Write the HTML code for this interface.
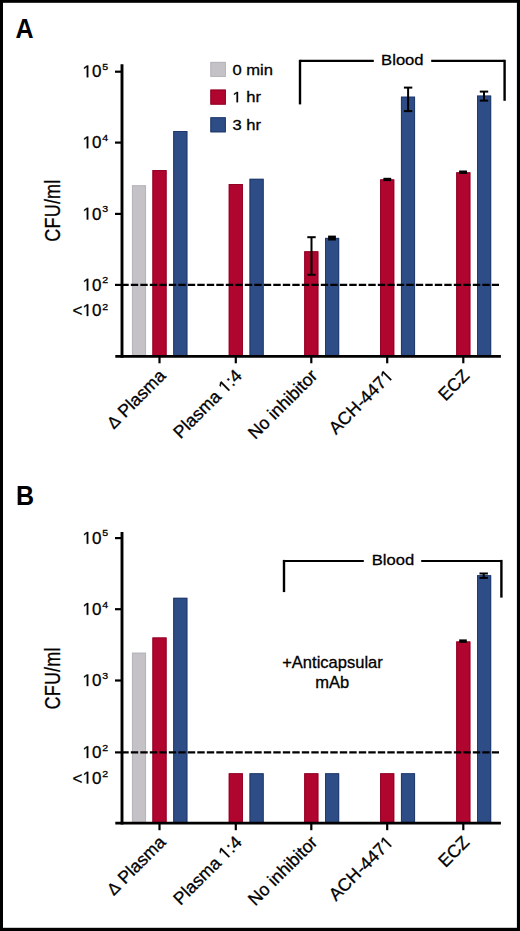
<!DOCTYPE html>
<html><head><meta charset="utf-8"><style>
html,body{margin:0;padding:0;background:#fff;}
body{width:520px;height:931px;overflow:hidden;}
svg{display:block;}
text{font-family:"Liberation Sans",sans-serif;fill:#000;stroke:#000;stroke-width:0.3px;}
text[font-weight="bold"]{stroke-width:0;}
</style></head><body>
<svg width="520" height="931" viewBox="0 0 520 931">
<rect x="0" y="0" width="520" height="931" fill="#fff"/>
<text transform="translate(15.60 37.60) scale(0.9 1)" font-size="27.8" text-anchor="start" font-weight="bold">A</text>
<rect x="131.95" y="185.30" width="14.10" height="171.00" fill="#c4c2c7"/>
<rect x="132.40" y="185.75" width="13.20" height="170.55" fill="none" stroke="#b5b3b9" stroke-width="0.9"/>
<rect x="152.45" y="170.10" width="14.10" height="186.20" fill="#b0052f"/>
<rect x="152.90" y="170.55" width="13.20" height="185.75" fill="none" stroke="#8e0024" stroke-width="0.9"/>
<rect x="173.25" y="131.00" width="14.10" height="225.30" fill="#2e4c86"/>
<rect x="173.70" y="131.45" width="13.20" height="224.85" fill="none" stroke="#1f3868" stroke-width="0.9"/>
<rect x="228.75" y="184.10" width="14.10" height="172.20" fill="#b0052f"/>
<rect x="229.20" y="184.55" width="13.20" height="171.75" fill="none" stroke="#8e0024" stroke-width="0.9"/>
<rect x="249.55" y="178.80" width="14.10" height="177.50" fill="#2e4c86"/>
<rect x="250.00" y="179.25" width="13.20" height="177.05" fill="none" stroke="#1f3868" stroke-width="0.9"/>
<rect x="304.25" y="251.30" width="14.10" height="105.00" fill="#b0052f"/>
<rect x="304.70" y="251.75" width="13.20" height="104.55" fill="none" stroke="#8e0024" stroke-width="0.9"/>
<rect x="325.05" y="237.90" width="14.10" height="118.40" fill="#2e4c86"/>
<rect x="325.50" y="238.35" width="13.20" height="117.95" fill="none" stroke="#1f3868" stroke-width="0.9"/>
<rect x="380.15" y="179.40" width="14.10" height="176.90" fill="#b0052f"/>
<rect x="380.60" y="179.85" width="13.20" height="176.45" fill="none" stroke="#8e0024" stroke-width="0.9"/>
<rect x="400.95" y="96.70" width="14.10" height="259.60" fill="#2e4c86"/>
<rect x="401.40" y="97.15" width="13.20" height="259.15" fill="none" stroke="#1f3868" stroke-width="0.9"/>
<rect x="456.25" y="172.30" width="14.10" height="184.00" fill="#b0052f"/>
<rect x="456.70" y="172.75" width="13.20" height="183.55" fill="none" stroke="#8e0024" stroke-width="0.9"/>
<rect x="477.05" y="95.60" width="14.10" height="260.70" fill="#2e4c86"/>
<rect x="477.50" y="96.05" width="13.20" height="260.25" fill="none" stroke="#1f3868" stroke-width="0.9"/>
<line x1="311.50" y1="237.20" x2="311.50" y2="274.80" stroke="#000" stroke-width="2.0" stroke-linecap="butt"/>
<line x1="307.30" y1="237.20" x2="315.70" y2="237.20" stroke="#000" stroke-width="2.0" stroke-linecap="butt"/>
<line x1="307.30" y1="274.80" x2="315.70" y2="274.80" stroke="#000" stroke-width="2.0" stroke-linecap="butt"/>
<rect x="328.10" y="235.60" width="7.80" height="4.90" fill="#000"/>
<rect x="383.40" y="177.80" width="7.80" height="3.30" fill="#000"/>
<line x1="408.10" y1="87.60" x2="408.10" y2="111.10" stroke="#000" stroke-width="2.0" stroke-linecap="butt"/>
<line x1="403.90" y1="87.60" x2="412.30" y2="87.60" stroke="#000" stroke-width="2.0" stroke-linecap="butt"/>
<line x1="403.90" y1="111.10" x2="412.30" y2="111.10" stroke="#000" stroke-width="2.0" stroke-linecap="butt"/>
<rect x="459.10" y="170.50" width="7.90" height="3.40" fill="#000"/>
<line x1="484.00" y1="91.60" x2="484.00" y2="100.60" stroke="#000" stroke-width="2.0" stroke-linecap="butt"/>
<line x1="479.80" y1="91.60" x2="488.20" y2="91.60" stroke="#000" stroke-width="2.0" stroke-linecap="butt"/>
<line x1="479.80" y1="100.60" x2="488.20" y2="100.60" stroke="#000" stroke-width="2.0" stroke-linecap="butt"/>
<line x1="121.30" y1="284.90" x2="499.00" y2="284.90" stroke="#000" stroke-width="2.2" stroke-linecap="butt" stroke-dasharray="7.4 2.1"/>
<line x1="122.00" y1="64.20" x2="122.00" y2="357.70" stroke="#000" stroke-width="2.9" stroke-linecap="butt"/>
<line x1="115.00" y1="71.70" x2="122.00" y2="71.70" stroke="#000" stroke-width="2.2" stroke-linecap="butt"/>
<line x1="115.00" y1="142.60" x2="122.00" y2="142.60" stroke="#000" stroke-width="2.2" stroke-linecap="butt"/>
<line x1="115.00" y1="213.90" x2="122.00" y2="213.90" stroke="#000" stroke-width="2.2" stroke-linecap="butt"/>
<line x1="115.00" y1="284.90" x2="122.00" y2="284.90" stroke="#000" stroke-width="2.2" stroke-linecap="butt"/>
<line x1="115.30" y1="356.30" x2="500.90" y2="356.30" stroke="#000" stroke-width="2.8" stroke-linecap="butt"/>
<line x1="159.50" y1="356.30" x2="159.50" y2="363.30" stroke="#000" stroke-width="2.2" stroke-linecap="butt"/>
<line x1="235.80" y1="356.30" x2="235.80" y2="363.30" stroke="#000" stroke-width="2.2" stroke-linecap="butt"/>
<line x1="311.30" y1="356.30" x2="311.30" y2="363.30" stroke="#000" stroke-width="2.2" stroke-linecap="butt"/>
<line x1="387.20" y1="356.30" x2="387.20" y2="363.30" stroke="#000" stroke-width="2.2" stroke-linecap="butt"/>
<line x1="463.30" y1="356.30" x2="463.30" y2="363.30" stroke="#000" stroke-width="2.2" stroke-linecap="butt"/>
<text x="101.40" y="77.30" font-size="17" text-anchor="end" font-weight="normal">0</text>
<path transform="translate(82.49 77.30) scale(0.00830 -0.00830)" d="M515 0V1237L197 1010V1180L530 1409H696V0Z" fill="#000" stroke="#000" stroke-width="36.1"/>
<text transform="translate(102.20 70.00) scale(1.1 1)" font-size="9.6" text-anchor="start" font-weight="normal">5</text>
<text x="101.40" y="148.20" font-size="17" text-anchor="end" font-weight="normal">0</text>
<path transform="translate(82.49 148.20) scale(0.00830 -0.00830)" d="M515 0V1237L197 1010V1180L530 1409H696V0Z" fill="#000" stroke="#000" stroke-width="36.1"/>
<text transform="translate(102.20 140.90) scale(1.1 1)" font-size="9.6" text-anchor="start" font-weight="normal">4</text>
<text x="101.40" y="219.50" font-size="17" text-anchor="end" font-weight="normal">0</text>
<path transform="translate(82.49 219.50) scale(0.00830 -0.00830)" d="M515 0V1237L197 1010V1180L530 1409H696V0Z" fill="#000" stroke="#000" stroke-width="36.1"/>
<text transform="translate(102.20 212.20) scale(1.1 1)" font-size="9.6" text-anchor="start" font-weight="normal">3</text>
<text x="101.40" y="290.50" font-size="17" text-anchor="end" font-weight="normal">0</text>
<path transform="translate(82.49 290.50) scale(0.00830 -0.00830)" d="M515 0V1237L197 1010V1180L530 1409H696V0Z" fill="#000" stroke="#000" stroke-width="36.1"/>
<text transform="translate(102.20 283.20) scale(1.1 1)" font-size="9.6" text-anchor="start" font-weight="normal">2</text>
<text x="101.40" y="316.00" font-size="17" text-anchor="end" font-weight="normal">0</text>
<path transform="translate(82.49 316.00) scale(0.00830 -0.00830)" d="M515 0V1237L197 1010V1180L530 1409H696V0Z" fill="#000" stroke="#000" stroke-width="36.1"/>
<text x="82.49" y="316.00" font-size="17" text-anchor="end" font-weight="normal">&lt;</text>
<text transform="translate(102.20 309.60) scale(1.1 1)" font-size="9.6" text-anchor="start" font-weight="normal">2</text>
<text transform="translate(59.6 210.6) rotate(-90) scale(0.835 1)" font-size="21.6" letter-spacing="0.25" text-anchor="middle">CFU/ml</text>
<text transform="translate(166.70 376.80) rotate(-45)" font-size="17.7" text-anchor="end"><tspan font-size="16.6">&#916;</tspan> Plasma</text>
<g transform="translate(243.00 376.80) rotate(-45)">
<text x="-88.54" y="0" font-size="17.7">Plasma&#160;</text>
<path transform="translate(-24.61 0) scale(0.00864 -0.00864)" d="M515 0V1237L197 1010V1180L530 1409H696V0Z" fill="#000" stroke="#000" stroke-width="34.7"/>
<text x="-14.76" y="0" font-size="17.7">:4</text>
</g>
<text transform="translate(318.50 376.80) rotate(-45)" font-size="17.7" text-anchor="end">No inhibitor</text>
<g transform="translate(394.40 376.80) rotate(-45)">
<text x="-82.64" y="0" font-size="17.7">ACH-447</text>
<path transform="translate(-9.84 0) scale(0.00864 -0.00864)" d="M515 0V1237L197 1010V1180L530 1409H696V0Z" fill="#000" stroke="#000" stroke-width="34.7"/>
</g>
<text transform="translate(470.50 376.80) rotate(-45)" font-size="17.7" text-anchor="end">ECZ</text>
<line x1="300.00" y1="60.90" x2="373.80" y2="60.90" stroke="#000" stroke-width="2.2" stroke-linecap="butt"/>
<line x1="431.20" y1="60.90" x2="504.60" y2="60.90" stroke="#000" stroke-width="2.2" stroke-linecap="butt"/>
<line x1="300.00" y1="59.80" x2="300.00" y2="104.40" stroke="#000" stroke-width="2.4" stroke-linecap="butt"/>
<line x1="504.60" y1="59.80" x2="504.60" y2="100.80" stroke="#000" stroke-width="2.4" stroke-linecap="butt"/>
<text transform="translate(381.10 64.60) scale(1.08 1)" font-size="15.4" text-anchor="start" font-weight="normal">Blood</text>
<rect x="210.40" y="61.90" width="15.40" height="15.00" fill="#c4c2c7"/>
<rect x="210.85" y="62.35" width="14.5" height="14.1" fill="none" stroke="#b5b3b9" stroke-width="0.9"/>
<text transform="translate(232.40 74.50) scale(1.12 1)" font-size="14.8" text-anchor="start" font-weight="normal">0 min</text>
<rect x="210.40" y="89.60" width="15.40" height="15.00" fill="#b0052f"/>
<rect x="210.85" y="90.05" width="14.5" height="14.1" fill="none" stroke="#8e0024" stroke-width="0.9"/>
<path transform="translate(232.40 102.20) scale(0.00809 -0.00723)" d="M515 0V1237L197 1010V1180L530 1409H696V0Z" fill="#000" stroke="#000" stroke-width="41.5"/>
<text transform="translate(241.62 102.20) scale(1.12 1)" font-size="14.8" text-anchor="start" font-weight="normal">&#160;hr</text>
<rect x="210.40" y="117.30" width="15.40" height="15.00" fill="#2e4c86"/>
<rect x="210.85" y="117.75" width="14.5" height="14.1" fill="none" stroke="#1f3868" stroke-width="0.9"/>
<text transform="translate(232.40 129.90) scale(1.12 1)" font-size="14.8" text-anchor="start" font-weight="normal">3 hr</text>
<text transform="translate(16.00 505.00) scale(0.9 1)" font-size="27.8" text-anchor="start" font-weight="bold">B</text>
<rect x="131.95" y="652.70" width="14.10" height="170.50" fill="#c4c2c7"/>
<rect x="132.40" y="653.15" width="13.20" height="170.05" fill="none" stroke="#b5b3b9" stroke-width="0.9"/>
<rect x="152.45" y="637.50" width="14.10" height="185.70" fill="#b0052f"/>
<rect x="152.90" y="637.95" width="13.20" height="185.25" fill="none" stroke="#8e0024" stroke-width="0.9"/>
<rect x="173.25" y="597.80" width="14.10" height="225.40" fill="#2e4c86"/>
<rect x="173.70" y="598.25" width="13.20" height="224.95" fill="none" stroke="#1f3868" stroke-width="0.9"/>
<rect x="228.75" y="773.30" width="14.10" height="49.90" fill="#b0052f"/>
<rect x="229.20" y="773.75" width="13.20" height="49.45" fill="none" stroke="#8e0024" stroke-width="0.9"/>
<rect x="249.55" y="773.30" width="14.10" height="49.90" fill="#2e4c86"/>
<rect x="250.00" y="773.75" width="13.20" height="49.45" fill="none" stroke="#1f3868" stroke-width="0.9"/>
<rect x="304.25" y="773.30" width="14.10" height="49.90" fill="#b0052f"/>
<rect x="304.70" y="773.75" width="13.20" height="49.45" fill="none" stroke="#8e0024" stroke-width="0.9"/>
<rect x="325.05" y="773.30" width="14.10" height="49.90" fill="#2e4c86"/>
<rect x="325.50" y="773.75" width="13.20" height="49.45" fill="none" stroke="#1f3868" stroke-width="0.9"/>
<rect x="380.15" y="773.30" width="14.10" height="49.90" fill="#b0052f"/>
<rect x="380.60" y="773.75" width="13.20" height="49.45" fill="none" stroke="#8e0024" stroke-width="0.9"/>
<rect x="400.95" y="773.30" width="14.10" height="49.90" fill="#2e4c86"/>
<rect x="401.40" y="773.75" width="13.20" height="49.45" fill="none" stroke="#1f3868" stroke-width="0.9"/>
<rect x="456.25" y="641.50" width="14.10" height="181.70" fill="#b0052f"/>
<rect x="456.70" y="641.95" width="13.20" height="181.25" fill="none" stroke="#8e0024" stroke-width="0.9"/>
<rect x="477.05" y="575.20" width="14.10" height="248.00" fill="#2e4c86"/>
<rect x="477.50" y="575.65" width="13.20" height="247.55" fill="none" stroke="#1f3868" stroke-width="0.9"/>
<rect x="459.20" y="639.40" width="7.60" height="3.40" fill="#000"/>
<line x1="483.70" y1="573.50" x2="483.70" y2="577.90" stroke="#000" stroke-width="2.0" stroke-linecap="butt"/>
<line x1="479.50" y1="573.50" x2="487.90" y2="573.50" stroke="#000" stroke-width="2.0" stroke-linecap="butt"/>
<line x1="479.50" y1="577.90" x2="487.90" y2="577.90" stroke="#000" stroke-width="2.0" stroke-linecap="butt"/>
<line x1="121.30" y1="752.40" x2="499.00" y2="752.40" stroke="#000" stroke-width="2.2" stroke-linecap="butt" stroke-dasharray="7.4 2.1"/>
<line x1="122.00" y1="531.90" x2="122.00" y2="824.60" stroke="#000" stroke-width="2.9" stroke-linecap="butt"/>
<line x1="115.00" y1="538.10" x2="122.00" y2="538.10" stroke="#000" stroke-width="2.2" stroke-linecap="butt"/>
<line x1="115.00" y1="609.20" x2="122.00" y2="609.20" stroke="#000" stroke-width="2.2" stroke-linecap="butt"/>
<line x1="115.00" y1="680.50" x2="122.00" y2="680.50" stroke="#000" stroke-width="2.2" stroke-linecap="butt"/>
<line x1="115.00" y1="752.40" x2="122.00" y2="752.40" stroke="#000" stroke-width="2.2" stroke-linecap="butt"/>
<line x1="115.30" y1="823.20" x2="500.90" y2="823.20" stroke="#000" stroke-width="2.8" stroke-linecap="butt"/>
<line x1="159.50" y1="823.20" x2="159.50" y2="830.20" stroke="#000" stroke-width="2.2" stroke-linecap="butt"/>
<line x1="235.80" y1="823.20" x2="235.80" y2="830.20" stroke="#000" stroke-width="2.2" stroke-linecap="butt"/>
<line x1="311.30" y1="823.20" x2="311.30" y2="830.20" stroke="#000" stroke-width="2.2" stroke-linecap="butt"/>
<line x1="387.20" y1="823.20" x2="387.20" y2="830.20" stroke="#000" stroke-width="2.2" stroke-linecap="butt"/>
<line x1="463.30" y1="823.20" x2="463.30" y2="830.20" stroke="#000" stroke-width="2.2" stroke-linecap="butt"/>
<text x="101.40" y="543.70" font-size="17" text-anchor="end" font-weight="normal">0</text>
<path transform="translate(82.49 543.70) scale(0.00830 -0.00830)" d="M515 0V1237L197 1010V1180L530 1409H696V0Z" fill="#000" stroke="#000" stroke-width="36.1"/>
<text transform="translate(102.20 536.40) scale(1.1 1)" font-size="9.6" text-anchor="start" font-weight="normal">5</text>
<text x="101.40" y="614.80" font-size="17" text-anchor="end" font-weight="normal">0</text>
<path transform="translate(82.49 614.80) scale(0.00830 -0.00830)" d="M515 0V1237L197 1010V1180L530 1409H696V0Z" fill="#000" stroke="#000" stroke-width="36.1"/>
<text transform="translate(102.20 607.50) scale(1.1 1)" font-size="9.6" text-anchor="start" font-weight="normal">4</text>
<text x="101.40" y="686.10" font-size="17" text-anchor="end" font-weight="normal">0</text>
<path transform="translate(82.49 686.10) scale(0.00830 -0.00830)" d="M515 0V1237L197 1010V1180L530 1409H696V0Z" fill="#000" stroke="#000" stroke-width="36.1"/>
<text transform="translate(102.20 678.80) scale(1.1 1)" font-size="9.6" text-anchor="start" font-weight="normal">3</text>
<text x="101.40" y="758.00" font-size="17" text-anchor="end" font-weight="normal">0</text>
<path transform="translate(82.49 758.00) scale(0.00830 -0.00830)" d="M515 0V1237L197 1010V1180L530 1409H696V0Z" fill="#000" stroke="#000" stroke-width="36.1"/>
<text transform="translate(102.20 750.70) scale(1.1 1)" font-size="9.6" text-anchor="start" font-weight="normal">2</text>
<text x="101.40" y="783.50" font-size="17" text-anchor="end" font-weight="normal">0</text>
<path transform="translate(82.49 783.50) scale(0.00830 -0.00830)" d="M515 0V1237L197 1010V1180L530 1409H696V0Z" fill="#000" stroke="#000" stroke-width="36.1"/>
<text x="82.49" y="783.50" font-size="17" text-anchor="end" font-weight="normal">&lt;</text>
<text transform="translate(102.20 777.10) scale(1.1 1)" font-size="9.6" text-anchor="start" font-weight="normal">2</text>
<text transform="translate(59.6 678.4) rotate(-90) scale(0.835 1)" font-size="21.6" letter-spacing="0.25" text-anchor="middle">CFU/ml</text>
<text transform="translate(166.70 843.30) rotate(-45)" font-size="17.7" text-anchor="end"><tspan font-size="16.6">&#916;</tspan> Plasma</text>
<g transform="translate(243.00 843.30) rotate(-45)">
<text x="-88.54" y="0" font-size="17.7">Plasma&#160;</text>
<path transform="translate(-24.61 0) scale(0.00864 -0.00864)" d="M515 0V1237L197 1010V1180L530 1409H696V0Z" fill="#000" stroke="#000" stroke-width="34.7"/>
<text x="-14.76" y="0" font-size="17.7">:4</text>
</g>
<text transform="translate(318.50 843.30) rotate(-45)" font-size="17.7" text-anchor="end">No inhibitor</text>
<g transform="translate(394.40 843.30) rotate(-45)">
<text x="-82.64" y="0" font-size="17.7">ACH-447</text>
<path transform="translate(-9.84 0) scale(0.00864 -0.00864)" d="M515 0V1237L197 1010V1180L530 1409H696V0Z" fill="#000" stroke="#000" stroke-width="34.7"/>
</g>
<text transform="translate(470.50 843.30) rotate(-45)" font-size="17.7" text-anchor="end">ECZ</text>
<line x1="284.00" y1="561.00" x2="363.80" y2="561.00" stroke="#000" stroke-width="2.2" stroke-linecap="butt"/>
<line x1="421.20" y1="561.00" x2="501.40" y2="561.00" stroke="#000" stroke-width="2.2" stroke-linecap="butt"/>
<line x1="284.00" y1="559.90" x2="284.00" y2="592.10" stroke="#000" stroke-width="2.4" stroke-linecap="butt"/>
<line x1="501.40" y1="559.90" x2="501.40" y2="597.60" stroke="#000" stroke-width="2.4" stroke-linecap="butt"/>
<text transform="translate(371.70 564.60) scale(1.08 1)" font-size="15.4" text-anchor="start" font-weight="normal">Blood</text>
<text transform="translate(332.50 667.60) scale(1.04 1)" font-size="15.9" text-anchor="middle" font-weight="normal">+Anticapsular</text>
<text transform="translate(332.30 687.60) scale(1.04 1)" font-size="15.9" text-anchor="middle" font-weight="normal">mAb</text>
<rect x="0" y="0" width="3.0" height="931" fill="#000"/>
<rect x="0" y="0" width="520" height="2.8" fill="#000"/>
<rect x="516.9" y="0" width="3.1" height="931" fill="#000"/>
<rect x="0" y="927.8" width="520" height="3.2" fill="#000"/>
</svg>
</body></html>
